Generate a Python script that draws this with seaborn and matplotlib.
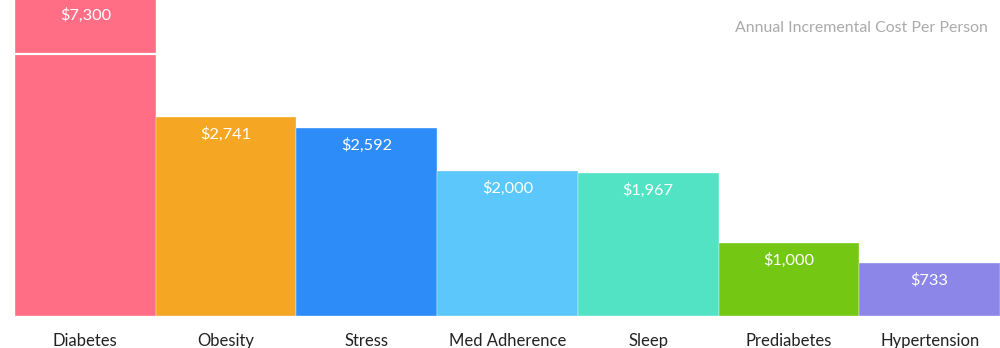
import matplotlib
matplotlib.use("Agg")
import matplotlib.pyplot as plt
import seaborn as sns
import pandas as pd

categories = ["Diabetes", "Obesity", "Stress", "Med Adherence", "Sleep", "Prediabetes", "Hypertension"]
costs = [7300, 2741, 2592, 2000, 1967, 1000, 733]
labels = ["$7,300", "$2,741", "$2,592", "$2,000", "$1,967", "$1,000", "$733"]
colors = ["#FF6E85", "#F5A623", "#2E8CF8", "#5BC7FB", "#52E3C4", "#74C814", "#8C86E9"]
title = "Annual Incremental Cost Per Person"

sns.set_theme(style="white")
plt.rcParams["font.family"] = ["Lato", "DejaVu Sans"]

df = pd.DataFrame({"category": categories, "cost": costs})

fig = plt.figure(figsize=(10, 3.48), dpi=100)
ax = fig.add_axes([0.015, 32 / 348, 0.985, 316 / 348])

sns.barplot(data=df, x="category", y="cost", hue="category", palette=colors,
            width=1.0, legend=False, ax=ax, saturation=1, edgecolor="white", linewidth=0.25)

ymax = 4352
ax.set_ylim(0, ymax)
ax.set_xlim(-0.5, len(categories) - 0.5)

for spine in ax.spines.values():
    spine.set_visible(False)
ax.set_yticks([])
ax.set_xlabel("")
ax.set_ylabel("")
ax.tick_params(axis="x", length=0, pad=12, labelsize=12, labelcolor="#222222")

# value labels
for i, (v, lab) in enumerate(zip(costs, labels)):
    if v > ymax:
        y = ymax - 210
    else:
        y = v - 240
    ax.text(i, y, lab, ha="center", va="center", color="white", fontsize=11.8)

# break indicator on the clipped bar
p = ax.patches[0]
ax.hlines(ymax * 0.83, p.get_x(), p.get_x() + p.get_width(), colors="white", linewidth=1.6)

ax.text(0.988, 0.91, title, transform=ax.transAxes, ha="right", va="center",
        color="#AAAAAA", fontsize=11.4)

fig.savefig("out.png", dpi=100)
